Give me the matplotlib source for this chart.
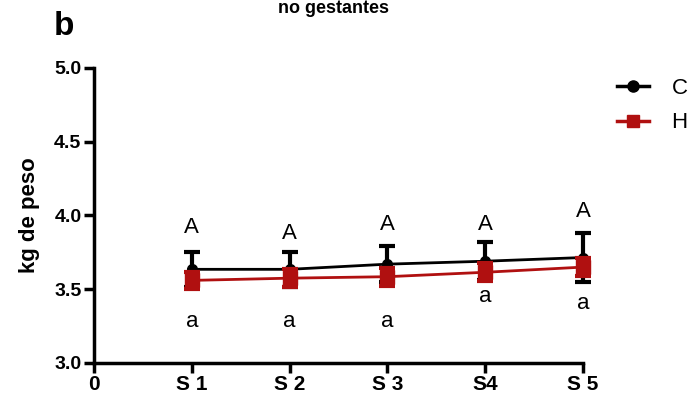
import matplotlib.pyplot as plt
from matplotlib.lines import Line2D

plt.rcParams['font.family'] = ['Liberation Sans', 'DejaVu Sans']

# semanas e médias de peso (kg)
semanas = [1, 2, 3, 4, 5]
rotulos_x = ["0", "S 1", "S 2", "S 3", "S4", "S 5"]
media_c = [3.635, 3.635, 3.67, 3.69, 3.715]
dp_c = [0.12, 0.12, 0.12, 0.13, 0.165]
media_h = [3.56, 3.575, 3.585, 3.615, 3.65]
dp_h = [0.06, 0.06, 0.06, 0.06, 0.06]
letras_c = ["A", "A", "A", "A", "A"]
pos_c = [3.92, 3.88, 3.94, 3.94, 4.03]
letras_h = ["a", "a", "a", "a", "a"]
pos_h = [3.28, 3.28, 3.28, 3.45, 3.40]

vermelho = "#b01010"

fig = plt.figure(figsize=(6.94, 4.03), dpi=100)
ax = fig.add_axes([0.1354, 0.0993, 0.7046, 0.732])

ec = ax.errorbar(semanas, media_c, yerr=dp_c, color="black", marker="o", ms=7,
                 lw=2, elinewidth=3, capsize=6, capthick=3, zorder=3)
eh = ax.errorbar(semanas, media_h, yerr=dp_h, color=vermelho, marker="s", ms=10,
                 lw=2, elinewidth=3, capsize=6, capthick=3, zorder=4)
for cont in (ec, eh):
    for art in cont.lines[0:1] + tuple(cont.lines[1]) + tuple(cont.lines[2]):
        art.set_clip_on(False)

for x, l, y in zip(semanas, letras_c, pos_c):
    ax.text(x, y, l, ha="center", va="center", fontsize=16)
for x, l, y in zip(semanas, letras_h, pos_h):
    ax.text(x, y, l, ha="center", va="center", fontsize=16)

ax.set_xlim(0, 5)
ax.set_ylim(3.0, 5.0)
ax.set_xticks(range(6))
ax.set_xticklabels(rotulos_x, fontweight="bold", fontsize=15)
ax.set_yticks([3.0, 3.5, 4.0, 4.5, 5.0])
ax.set_yticklabels(["3.0", "3.5", "4.0", "4.5", "5.0"], fontweight="bold", fontsize=14)
ax.set_ylabel("kg de peso", fontweight="bold", fontsize=16, labelpad=10)
ax.tick_params(width=2.5, length=7, direction="out", pad=2)
for s in ["top", "right"]:
    ax.spines[s].set_visible(False)
for s in ["left", "bottom"]:
    ax.spines[s].set_linewidth(2.5)

alcas = [Line2D([], [], color="black", marker="o", ms=8, lw=2.5),
         Line2D([], [], color=vermelho, marker="s", ms=9, lw=2.5)]
ax.legend(alcas, ["C", "H"], loc="upper left",
          bbox_to_anchor=(617 / 694, 1 - 78 / 403), bbox_transform=fig.transFigure,
          frameon=False, fontsize=16, handlelength=1.45, handletextpad=1.0,
          labelspacing=0.6, borderpad=0, borderaxespad=0)

fig.text(0.078, 0.935, "b", fontweight="bold", fontsize=24, ha="left", va="center")
fig.text(0.48, 0.999, "no gestantes", fontweight="bold", fontsize=13, ha="center", va="top")

fig.savefig("out.png", dpi=100)
